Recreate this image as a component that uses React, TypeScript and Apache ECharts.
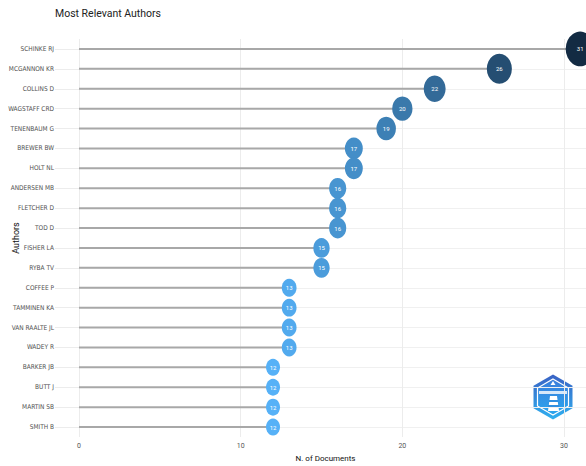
import React, { useEffect, useRef } from "react";
import * as echarts from "echarts";

const authors = [
  "SCHINKE RJ", "MCGANNON KR", "COLLINS D", "WAGSTAFF CRD", "TENENBAUM G",
  "BREWER BW", "HOLT NL", "ANDERSEN MB", "FLETCHER D", "TOD D",
  "FISHER LA", "RYBA TV", "COFFEE P", "TAMMINEN KA", "VAN RAALTE JL",
  "WADEY R", "BARKER JB", "BUTT J", "MARTIN SB", "SMITH B",
];
const documents = [31, 26, 22, 20, 19, 17, 17, 16, 16, 16, 15, 15, 13, 13, 13, 13, 12, 12, 12, 12];
const xTicks = [0, 10, 20, 30];

const FONT = "Roboto, 'Open Sans', sans-serif";
const LABEL_FONT = "'DejaVu Sans Condensed', 'Liberation Sans Narrow', Roboto, sans-serif";

export default function App() {
  const ref = useRef<HTMLDivElement>(null);
  useEffect(() => {
    if (!ref.current) return;
    const chart = echarts.init(ref.current, null, { renderer: "svg" });
    const hex = (cx: number, cy: number, rx: number, ry: number) => [
      [cx, cy - ry], [cx + rx, cy - ry / 2], [cx + rx, cy + ry / 2],
      [cx, cy + ry], [cx - rx, cy + ry / 2], [cx - rx, cy - ry / 2],
    ];
    chart.setOption({
      animation: false,
      backgroundColor: "#ffffff",
      textStyle: { fontFamily: FONT },
      title: {
        text: "Most Relevant Authors",
        left: 50,
        top: 3,
        textStyle: { fontSize: 10.5, fontWeight: "normal", color: "#222", fontFamily: FONT },
      },
      grid: {
        left: 79, right: 0, top: 39, bottom: 29,
        containLabel: false,
        outerBoundsMode: "none",
      },
      visualMap: {
        show: false,
        type: "continuous",
        seriesIndex: 1,
        dimension: 0,
        min: 12,
        max: 31,
        inRange: { color: ["#56B1F7", "#132B43"] },
      },
      xAxis: {
        type: "value",
        min: 0,
        max: 31.36,
        interval: 10,
        name: "N. of Documents",
        nameLocation: "middle",
        nameGap: 17,
        nameMoveOverlap: false,
        nameTextStyle: { fontSize: 8, color: "#111", fontFamily: FONT, padding: [0, 14, 0, 0] },
        axisLine: { show: false },
        axisTick: { show: false },
        axisLabel: {
          fontSize: 7,
          color: "#555",
          margin: 5,
          showMaxLabel: false,
          formatter: (v: number) => (xTicks.includes(v) ? String(v) : ""),
        },
        splitLine: { show: true, lineStyle: { color: "#ececec", width: 1 } },
      },
      yAxis: {
        type: "category",
        data: authors,
        inverse: true,
        name: "Authors",
        nameLocation: "middle",
        nameGap: 59,
        nameRotate: 90,
        nameMoveOverlap: false,
        nameTextStyle: { fontSize: 9, color: "#111", fontFamily: FONT },
        axisLine: { show: false },
        axisTick: { show: true, alignWithLabel: true, length: 24, lineStyle: { color: "#ececec" } },
        axisLabel: { fontSize: 6.5, color: "#505050", margin: 25, fontFamily: LABEL_FONT },
        splitLine: { show: true, alignWithLabel: true, lineStyle: { color: "#f0f0f0", width: 1 } },
      },
      series: [
        {
          type: "bar",
          data: documents,
          barWidth: 2,
          itemStyle: { color: "#a8a8a8" },
          silent: true,
          z: 2,
        },
        {
          type: "scatter",
          data: documents.map((d, i) => [d, authors[i]]),
          symbol: "circle",
          symbolSize: (val: any) => {
            const v = val[0];
            return [14 + (v - 12) * 0.79, 17 + (v - 12) * 0.93];
          },
          itemStyle: { opacity: 1 },
          clip: false,
          z: 3,
          label: {
            show: true,
            position: "inside",
            formatter: (p: any) => String(p.value[0]),
            color: "#ffffff",
            fontSize: 6,
            fontFamily: FONT,
          },
        },
      ],
      graphic: [
        {
          type: "group",
          z: 10,
          children: [
            {
              type: "polygon",
              shape: { points: hex(553, 397, 19.5, 22.5) },
              style: {
                fill: new echarts.graphic.LinearGradient(0, 0, 0, 1, [
                  { offset: 0, color: "#3a62c4" },
                  { offset: 1, color: "#2fb0f0" },
                ]),
              },
            },
            {
              type: "polygon",
              shape: { points: hex(553, 397, 15.5, 18) },
              style: {
                fill: new echarts.graphic.LinearGradient(0, 0, 0, 1, [
                  { offset: 0, color: "#3b7ddb" },
                  { offset: 1, color: "#29a6ee" },
                ]),
                stroke: "#ffffff",
                lineWidth: 1.2,
              },
            },
            {
              type: "rect",
              shape: { x: 539, y: 391, width: 28, height: 3 },
              style: { fill: "#ffffff", opacity: 0.8 },
            },
            {
              type: "polygon",
              shape: { points: [[553, 381], [555.5, 385], [550.5, 385]] },
              style: { fill: "#ffffff" },
            },
            {
              type: "polygon",
              shape: { points: [[550, 396], [557, 396], [559, 411], [548, 411]] },
              style: { fill: "#ffffff" },
            },
            {
              type: "rect",
              shape: { x: 549, y: 400, width: 9, height: 2 },
              style: { fill: "#2f8fe0" },
            },
            {
              type: "rect",
              shape: { x: 548, y: 405, width: 11, height: 2 },
              style: { fill: "#2f8fe0" },
            },
          ],
        },
      ],
    });
    return () => chart.dispose();
  }, []);
  return (
    <div
      ref={ref}
      style={{ position: "fixed", left: 0, top: 0, width: 586, height: 466 }}
    />
  );
}
